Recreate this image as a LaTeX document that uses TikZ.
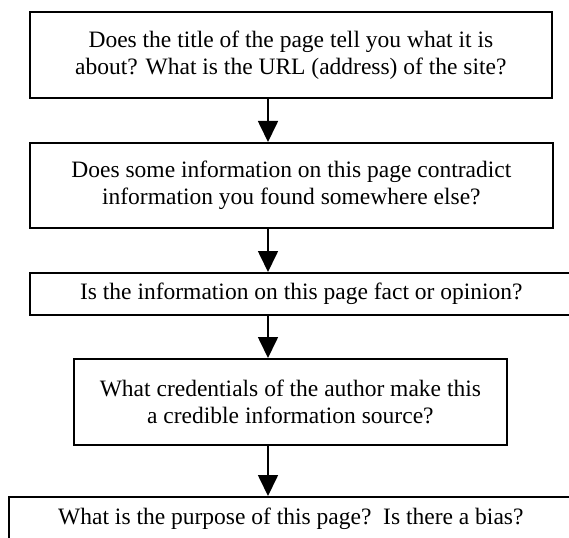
\documentclass[tikz,border=0pt]{standalone}
\usepackage{fontspec}
\setmainfont{Liberation Serif}
\usetikzlibrary{arrows.meta}
\begin{document}
\begin{tikzpicture}[x=1pt,y=-1pt,
  qbox/.style={draw, line width=1.7pt, align=center, inner sep=0pt,
    anchor=north west, font=\fontsize{23.5}{27}\selectfont},
  flow/.style={line width=1.7pt, -{Triangle[width=20pt,length=21pt]}}]
\useasboundingbox (0,0) rectangle (569,537);
\clip (0,0) rectangle (569,537);
\node[qbox, minimum width=522pt, minimum height=86pt] (q1) at (29,11)
  {Does the title of the page tell you what it is\\about? What is the URL (address) of the site?};
\node[qbox, minimum width=523pt, minimum height=85pt] (q2) at (29,142)
  {Does some information on this page contradict\\information you found somewhere else?};
\node[qbox, minimum width=543pt, minimum height=42pt] (q3) at (29,272)
  {Is the information on this page fact or opinion?};
\node[qbox, minimum width=433pt, minimum height=86pt] (q4) at (73,358)
  {What credentials of the author make this\\a credible information source?};
\node[qbox, minimum width=564pt, minimum height=44pt] (q5) at (8,496)
  {What is the purpose of this page?\ \ Is there a bias?};
% all connectors share one vertical line
\coordinate (ax) at (268,0);
\draw[flow] (q1.south -| ax) -- (q2.north -| ax);
\draw[flow] (q2.south -| ax) -- (q3.north -| ax);
\draw[flow] (q3.south -| ax) -- (q4.north -| ax);
\draw[flow] (q4.south -| ax) -- (q5.north -| ax);
\end{tikzpicture}
\end{document}
